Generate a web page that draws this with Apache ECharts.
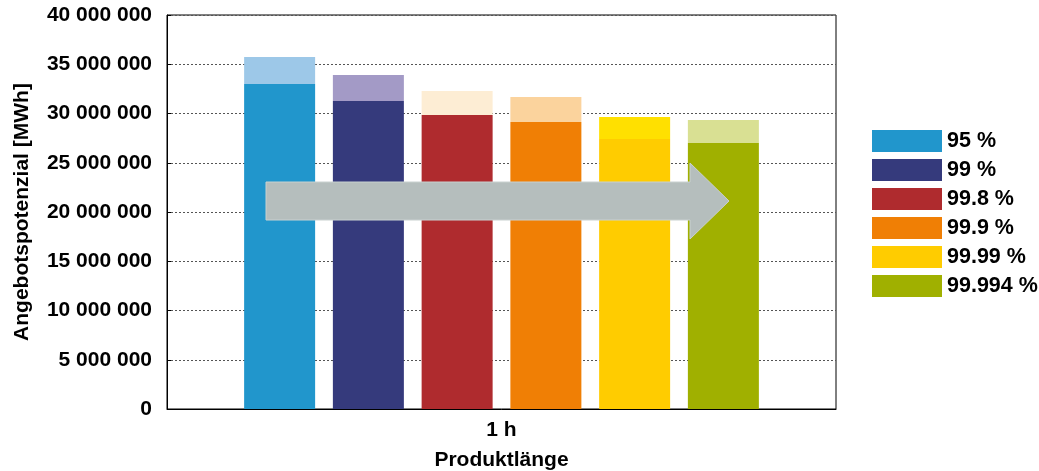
<!DOCTYPE html>
<html>
<head>
<meta charset="utf-8">
<script src="https://cdn.jsdelivr.net/npm/echarts@6/dist/echarts.min.js"></script>
<style>
  html, body { margin: 0; padding: 0; background: #fff; }
  #chart { width: 1039px; height: 471px; }
</style>
</head>
<body>
<div id="chart"></div>
<script>
// Offer potential per availability level, product length 1 h
const categories = ['1 h'];
const levels = ['95 %', '99 %', '99.8 %', '99.9 %', '99.99 %', '99.994 %'];
// Secured part of the potential [MWh]
const baseValues = [33000000, 31270000, 29850000, 29140000, 27410000, 27000000];
// Full potential including the upper band [MWh]
const totalValues = [35740000, 33900000, 32280000, 31680000, 29640000, 29340000];
const yTicks = [0, 5000000, 10000000, 15000000, 20000000, 25000000, 30000000, 35000000, 40000000];

const darkColors = ['#2196CC', '#353A7C', '#AF2B2E', '#F07F05', '#FFCC00', '#A0B000'];
const lightColors = ['#9DC8E8', '#A39AC6', '#FDEDD4', '#FBD39D', '#FFE000', '#D9E093'];

const FONT = '"Liberation Sans", Arial, Helvetica, sans-serif';

function fmt(v) {
  return String(v).replace(/\B(?=(\d{3})+(?!\d))/g, ' ');
}

const series = [];
levels.forEach((name, i) => {
  series.push({
    name: name,
    type: 'bar',
    stack: 's' + i,
    barWidth: 71,
    barGap: '25%',
    itemStyle: { color: darkColors[i] },
    data: [baseValues[i]]
  });
  series.push({
    name: name + ' max',
    type: 'bar',
    stack: 's' + i,
    barWidth: 71,
    barGap: '25%',
    itemStyle: { color: lightColors[i] },
    data: [totalValues[i] - baseValues[i]]
  });
});

const chart = echarts.init(document.getElementById('chart'), null, { renderer: 'canvas', width: 1039, height: 471 });
chart.setOption({
  animation: false,
  backgroundColor: '#fff',
  grid: {
    left: 167, width: 669, top: 15, height: 394,
    containLabel: false,
    outerBoundsMode: 'none',
    show: true, borderColor: '#000', borderWidth: 1, backgroundColor: 'transparent'
  },
  legend: {
    data: levels,
    orient: 'vertical',
    left: 872,
    top: 130,
    padding: 0,
    itemWidth: 70,
    itemHeight: 22,
    itemGap: 7,
    icon: 'rect',
    selectedMode: false,
    textStyle: { fontFamily: FONT, fontWeight: 'bold', fontSize: 21.5, color: '#000' }
  },
  xAxis: {
    type: 'category',
    data: categories,
    name: 'Produktlänge',
    nameLocation: 'middle',
    nameGap: 41,
    nameTextStyle: { fontFamily: FONT, fontWeight: 'bold', fontSize: 21, color: '#000' },
    axisLine: { lineStyle: { color: '#000', width: 1 } },
    axisTick: { show: false },
    axisLabel: { margin: 11, fontFamily: FONT, fontWeight: 'bold', fontSize: 21, color: '#000' }
  },
  yAxis: {
    type: 'value',
    min: 0,
    max: 40000000,
    interval: 5000000,
    name: 'Angebotspotenzial [MWh]',
    nameLocation: 'middle',
    nameGap: 134,
    nameTextStyle: { fontFamily: FONT, fontWeight: 'bold', fontSize: 21, color: '#000' },
    axisLine: { show: true, lineStyle: { color: '#000', width: 1 } },
    axisTick: { show: true, inside: true, length: 4, lineStyle: { color: '#000' } },
    axisLabel: {
      margin: 15,
      fontFamily: FONT, fontWeight: 'bold', fontSize: 21, color: '#000',
      formatter: v => yTicks.includes(v) ? fmt(v) : ''
    },
    splitLine: { show: true, lineStyle: { color: '#555', width: 1, type: [2, 2] } }
  },
  series: series,
  graphic: [{
    type: 'polygon',
    z: 100,
    shape: {
      points: [[266, 182], [690, 182], [690, 163], [729, 201], [690, 239], [690, 220], [266, 220]]
    },
    style: { fill: '#B5BEBD', stroke: '#C9D1D0', lineWidth: 1 }
  }]
});
</script>
</body>
</html>
